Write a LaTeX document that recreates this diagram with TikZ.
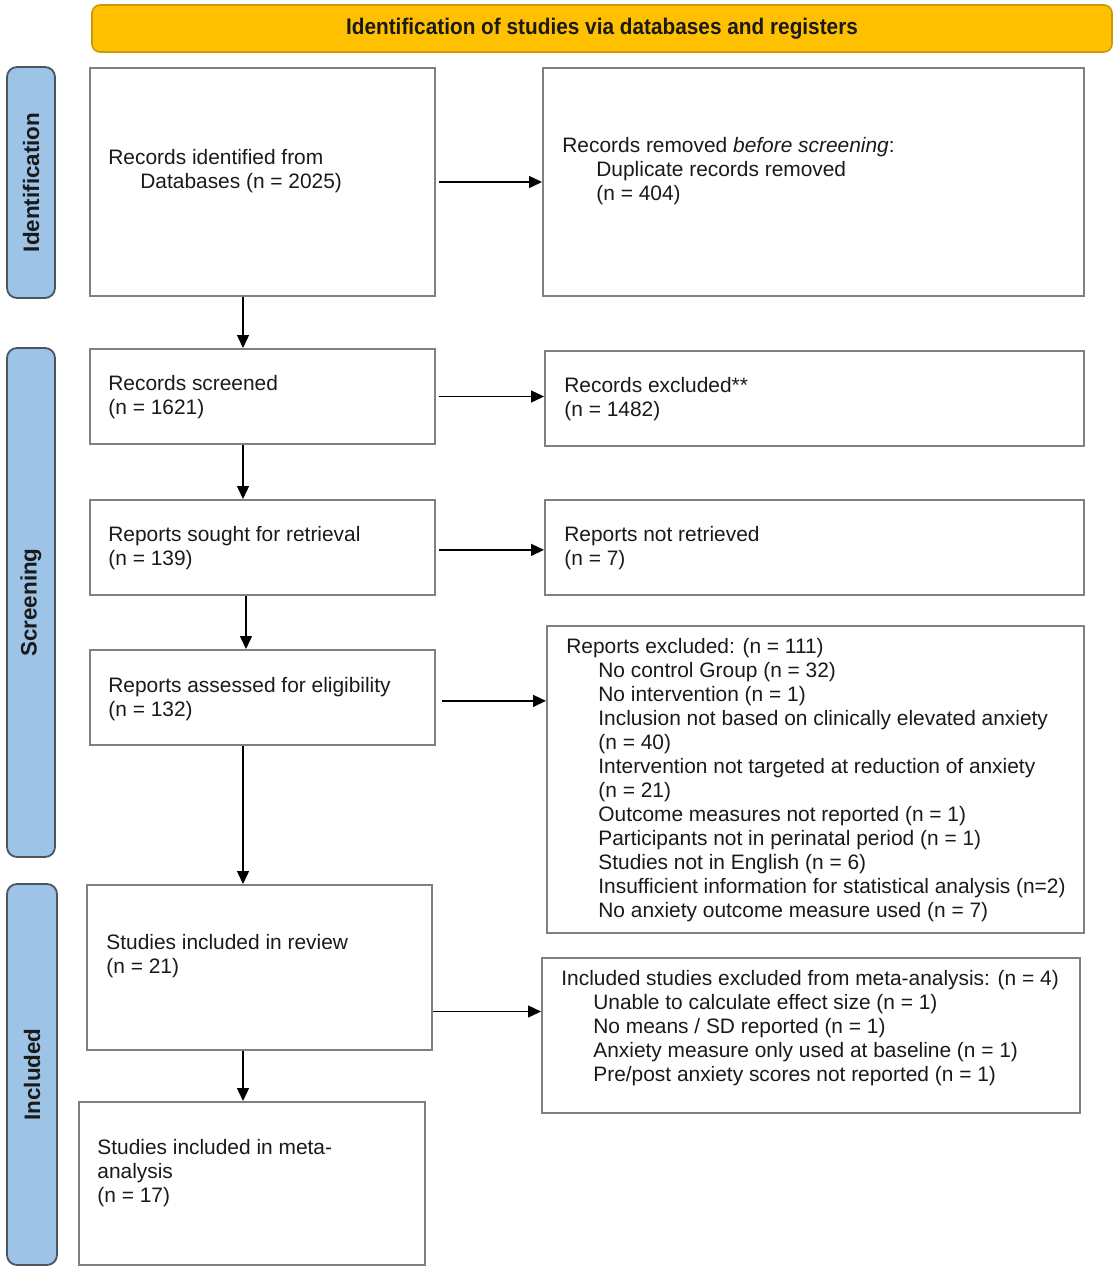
\documentclass[tikz,border=0pt]{standalone}
\usepackage{fontspec}
\setmainfont{Liberation Sans}
\usetikzlibrary{fit,arrows.meta,calc}
\definecolor{hdrfill}{HTML}{FFC000}
\definecolor{hdrdraw}{HTML}{C99A06}
\definecolor{sidefill}{HTML}{9DC3E6}
\definecolor{sidedraw}{HTML}{4A5560}
\definecolor{boxdraw}{HTML}{808080}
\definecolor{txt}{HTML}{1A1A1A}
\tikzset{
  x=0.5pt, y=-0.5pt,
  box/.style={draw=boxdraw, line width=1pt, fill=white, inner sep=0pt},
  hdr/.style={draw=hdrdraw, line width=0.8pt, fill=hdrfill, rounded corners=4pt, inner sep=0pt},
  side/.style={draw=sidedraw, line width=0.9pt, fill=sidefill, rounded corners=5pt, inner sep=0pt},
  body/.style={anchor=west, align=left, inner sep=0pt, text=txt, font=\fontsize{10.45}{12}\selectfont},
  sidetxt/.style={rotate=90, inner sep=0pt, text=txt, font=\fontsize{11.2}{13}\selectfont\bfseries},
  arr/.style={line width=0.7pt, -{Triangle[length=6.5pt,width=6pt]}}
}
\begin{document}
\begin{tikzpicture}
\useasboundingbox (0,0) rectangle (1119,1280);
% header
\node[hdr, fit={(92,5) (1112,52)}] (hdr) {};
\node[inner sep=0pt, text=txt, font=\fontsize{11.3}{13}\selectfont\bfseries] (hdrtxt) at (hdr.center) {\scalebox{0.92}[1]{Identification of studies via databases and registers}};
% side bars
\node[side, fit={(7,67) (55,298)}] (s1) {};
\node[side, fit={(7,348) (55,857)}] (s2) {};
\node[side, fit={(7,884) (57,1265)}] (s3) {};
\node[sidetxt] (s1t) at (s1.center) {Identification};
\node[sidetxt] (s2t) at (s2.center) {Screening};
\node[sidetxt] (s3t) at (s3.center) {Included};
% boxes
\node[box, fit={(90,68) (435,296)}] (b1) {};
\node[box, fit={(543,68) (1084,296)}] (b2) {};
\node[box, fit={(90,349) (435,444)}] (b3) {};
\node[box, fit={(545,351) (1084,446)}] (b4) {};
\node[box, fit={(90,500) (435,595)}] (b5) {};
\node[box, fit={(545,500) (1084,595)}] (b6) {};
\node[box, fit={(90,650) (435,745)}] (b7) {};
\node[box, fit={(547,626) (1084,933)}] (b8) {};
\node[box, fit={(87,885) (432,1050)}] (b9) {};
\node[box, fit={(542,958) (1080,1113)}] (b10) {};
\node[box, fit={(79,1102) (425,1265)}] (b11) {};
% texts
\node[body] (t1) at (108,171) {Records identified from\\\hspace*{16pt}Databases (n = 2025)};
\node[body] (t2) at (562,171) {Records removed \textit{before screening}:\\\hspace*{17pt}Duplicate records removed\\\hspace*{17pt}(n = 404)};
\node[body] (t3) at (108,397.5) {Records screened\\(n = 1621)};
\node[body] (t4) at (564,399.5) {Records excluded**\\(n = 1482)};
\node[body] (t5) at (108,548.5) {Reports sought for retrieval\\(n = 139)};
\node[body] (t6) at (564,548.5) {Reports not retrieved\\(n = 7)};
\node[body] (t7) at (108,699.5) {Reports assessed for eligibility\\(n = 132)};
\node[body] (t8) at (566,780) {Reports excluded: (n = 111)\\
\hspace*{16pt}No control Group (n = 32)\\
\hspace*{16pt}No intervention (n = 1)\\
\hspace*{16pt}Inclusion not based on clinically elevated anxiety\\
\hspace*{16pt}(n = 40)\\
\hspace*{16pt}Intervention not targeted at reduction of anxiety\\
\hspace*{16pt}(n = 21)\\
\hspace*{16pt}Outcome measures not reported (n = 1)\\
\hspace*{16pt}Participants not in perinatal period (n = 1)\\
\hspace*{16pt}Studies not in English (n = 6)\\
\hspace*{16pt}Insufficient information for statistical analysis (n=2)\\
\hspace*{16pt}No anxiety outcome measure used (n = 7)};
\node[body] (t9) at (106,956.5) {Studies included in review\\(n = 21)};
\node[body] (t10) at (561,1028.5) {Included studies excluded from meta-analysis: (n = 4)\\
\hspace*{16pt}Unable to calculate effect size (n = 1)\\
\hspace*{16pt}No means / SD reported (n = 1)\\
\hspace*{16pt}Anxiety measure only used at baseline (n = 1)\\
\hspace*{16pt}Pre/post anxiety scores not reported (n = 1)};
\node[body] (t11) at (97,1173) {Studies included in meta-\\analysis\\(n = 17)};
% horizontal arrows
\draw[arr, shorten <=1.5pt] (b1.east) -- (b1.east -| b2.west);
\draw[arr, shorten <=1.5pt] (b3.east) -- (b3.east -| b4.west);
\draw[arr, shorten <=1.5pt] ([yshift=-1.2pt]b5.east) -- ([yshift=-1.2pt]b5.east -| b6.west);
\draw[arr, shorten <=3pt] ([yshift=-1.7pt]b7.east) -- ([yshift=-1.7pt]b7.east -| b8.west);
\draw[arr] ([yshift=-22pt]b9.east) -- ([yshift=-22pt]b9.east -| b10.west);
% vertical arrows
\coordinate (ax) at (243,0);
\coordinate (bx) at (246,0);
\draw[arr] (b1.south -| ax) -- (b3.north -| ax);
\draw[arr] (b3.south -| ax) -- (b5.north -| ax);
\draw[arr] (b5.south -| bx) -- (b7.north -| bx);
\draw[arr] (b7.south -| ax) -- (b9.north -| ax);
\draw[arr] (b9.south -| ax) -- (b11.north -| ax);
\end{tikzpicture}
\end{document}
